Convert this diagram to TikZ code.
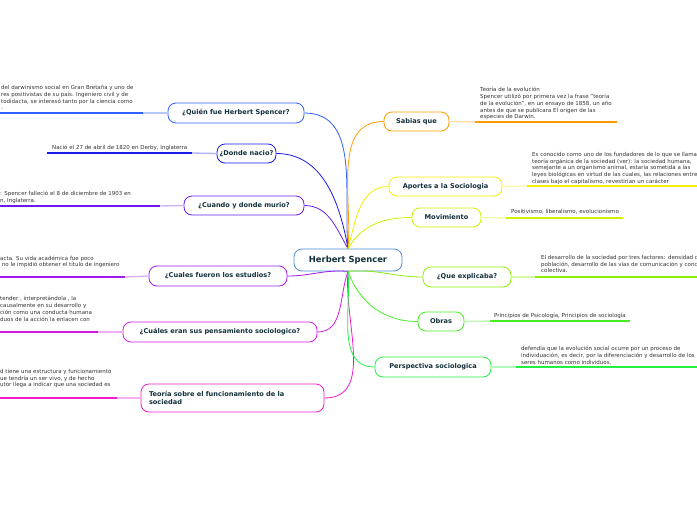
\documentclass[tikz,border=0pt]{standalone}
\usepackage{fontspec}
\setmainfont{DejaVu Sans}
\definecolor{txt}{HTML}{333333}
\definecolor{lbl}{HTML}{12303A}
\definecolor{cHS}{HTML}{4A8FD8}
\definecolor{cQ}{HTML}{3060FF}
\definecolor{cD}{HTML}{1A1AE8}
\definecolor{cC}{HTML}{6A1AEE}
\definecolor{cE}{HTML}{A01AEE}
\definecolor{cP}{HTML}{D41AE0}
\definecolor{cT}{HTML}{F21AC8}
\definecolor{cS}{HTML}{FF9A00}
\definecolor{cA}{HTML}{F2EE00}
\definecolor{cM}{HTML}{D2F000}
\definecolor{cX}{HTML}{8CEE00}
\definecolor{cO}{HTML}{44EE22}
\definecolor{cR}{HTML}{22EE44}
\tikzset{
  topic/.style={draw, rounded corners=8pt, line width=0.8pt, fill=white, text=lbl,
    font=\fontsize{6.6}{8.5}\selectfont\bfseries, inner sep=0pt, align=center},
  leaf/.style={text=txt, font=\fontsize{5.5}{6.8}\selectfont, inner sep=0pt, align=left},
  conn/.style={line width=0.8pt},
  uline/.style={line width=1.3pt},
}
\begin{document}
\begin{tikzpicture}[x=1pt,y=-1pt]
\useasboundingbox (0,0) rectangle (697,520);
\clip (0,0) rectangle (697,520);

% topics
\node[topic, draw=cHS, minimum width=108pt, minimum height=22pt, font=\fontsize{8.4}{10}\selectfont\bfseries] (hs) at (348,260) {Herbert Spencer};
\node[topic, draw=cQ, minimum width=136pt, minimum height=20pt] (q) at (236,113) {¿Quién fue Herbert Spencer?};
\node[topic, draw=cD, minimum width=59pt, minimum height=19pt] (don) at (246.5,153.5) {¿Donde nacio?};
\node[topic, draw=cC, minimum width=120pt, minimum height=19pt] (cua) at (244,205.5) {¿Cuando y donde murio?};
\node[topic, draw=cE, minimum width=138pt, minimum height=20pt] (est) at (218,276) {¿Cuales fueron los estudios?};
\node[topic, draw=cP, minimum width=194pt, minimum height=20pt] (pen) at (220,332) {¿Cuáles eran sus pensamiento sociologico?};
\node[topic, draw=cT, minimum width=183pt, minimum height=28pt, text width=167pt, align=left] (teo) at (232.5,398) {Teoría sobre el funcionamiento de la\\sociedad};
\node[topic, draw=cS, minimum width=65pt, minimum height=19pt] (sab) at (416.5,121.5) {Sabias que};
\node[topic, draw=cA, minimum width=113pt, minimum height=19pt] (apo) at (445.5,186.5) {Aportes a la Sociologia};
\node[topic, draw=cM, minimum width=69pt, minimum height=19pt] (mov) at (446.5,217.5) {Movimiento};
\node[topic, draw=cX, minimum width=88pt, minimum height=20pt] (que) at (467,277) {¿Que explicaba?};
\node[topic, draw=cO, minimum width=46pt, minimum height=19pt] (obr) at (441,321.5) {Obras};
\node[topic, draw=cR, minimum width=116pt, minimum height=20pt] (per) at (433,367) {Perspectiva sociologica};

% connectors
\draw[conn, cQ] (hs.north) to[out=95, in=0] (q.east);
\draw[conn, cD] (hs.north) to[out=100, in=0] (don.east);
\draw[conn, cC] (hs.north) to[out=120, in=0] (cua.east);
\draw[conn, cE] (hs.south) to[out=175, in=0] (est.east);
\draw[conn, cP] (hs.south) to[out=-110, in=0] (pen.east);
\draw[conn, cT] (hs.south) to[out=-95, in=0] (teo.east);
\draw[conn, cS] (hs.north) to[out=85, in=180] (sab.west);
\draw[conn, cA] (hs.north) to[out=75, in=180] (apo.west);
\draw[conn, cM] (hs.north) to[out=60, in=180] (mov.west);
\draw[conn, cX] (hs.south) to[out=5, in=180] (que.west);
\draw[conn, cO] (hs.south) to[out=-70, in=180] (obr.west);
\draw[conn, cR] (hs.south) to[out=-85, in=180] (per.west);

% underline coordinates
\coordinate (qm) at (143,113);   \coordinate (qe) at (0,113);
\coordinate (dm) at (192,153);   \coordinate (de) at (47,153);
\coordinate (cm) at (160,206);   \coordinate (ce) at (0,206);
\coordinate (em) at (125,277);   \coordinate (ee) at (0,277);
\coordinate (pm) at (98,332);    \coordinate (pe) at (0,332);
\coordinate (tm) at (117,398);   \coordinate (te) at (0,398);
\coordinate (sm) at (475,122);   \coordinate (se) at (617,122);
\coordinate (am) at (527,186);   \coordinate (ae) at (697,186);
\coordinate (mm) at (506,218);   \coordinate (me) at (623,218);
\coordinate (xm) at (535,277);   \coordinate (xe) at (697,277);
\coordinate (om) at (490,321);   \coordinate (oe) at (630,321);
\coordinate (rm) at (516,367);   \coordinate (re) at (697,367);

\draw[uline, cQ!35] (q.west) -- (qm); \draw[uline, cQ] (qm) -- (qe);
\draw[uline, cD!35] (don.west) -- (dm); \draw[uline, cD] (dm) -- (de);
\draw[uline, cC!35] (cua.west) -- (cm); \draw[uline, cC] (cm) -- (ce);
\draw[uline, cE!35] (est.west) -- (em); \draw[uline, cE] (em) -- (ee);
\draw[uline, cP!35] (pen.west) -- (pm); \draw[uline, cP] (pm) -- (pe);
\draw[uline, cT!35] (teo.west) -- (tm); \draw[uline, cT] (tm) -- (te);
\draw[uline, cS!35] (sab.east) -- (sm); \draw[uline, cS] (sm) -- (se);
\draw[uline, cA!35] (apo.east) -- (am); \draw[uline, cA] (am) -- (ae);
\draw[uline, cM!35] (mov.east) -- (mm); \draw[uline, cM] (mm) -- (me);
\draw[uline, cX!35] (que.east) -- (xm); \draw[uline, cX] (xm) -- (xe);
\draw[uline, cO!35] (obr.east) -- (om); \draw[uline, cO] (om) -- (oe);
\draw[uline, cR!35] (per.east) -- (rm); \draw[uline, cR] (rm) -- (re);

% leaf texts
\node[leaf, anchor=north west] (tq) at (1,85) {del darwinismo social en Gran Bretaña y uno de\\res positivistas de su país. Ingeniero civil y de\\todidacta, se interesó tanto por la ciencia como\\.};
\node[leaf, anchor=north west] (td) at (52,144.5) {Nació el 27 de abril de 1820 en Derby, Inglaterra};
\node[leaf, anchor=north west] (tc) at (0,191) {: Spencer falleció el 8 de diciembre de 1903 en\\n, Inglaterra.};
\node[leaf, anchor=north west] (te2) at (0,255.5) {acta. Su vida académica fue poco\\\ no le impidió obtener el título de ingeniero};
\node[leaf, anchor=north west] (tp) at (0,296) {tender , interpretándola , la\\causalmente en su desarrollo y\\ción como una conducta humana\\duos de la acción la enlacen con};
\node[leaf, anchor=north west] (tt) at (0,369) {d tiene una estructura y funcionamiento\\ue tendría un ser vivo, y de hecho\\utor llega a indicar que una sociedad es};
\node[leaf, anchor=north west] (ts) at (480,87) {Teoría de la evolución\\Spencer utilizó por primera vez la frase "teoría\\de la evolución", en un ensayo de 1858, un año\\antes de que se publicara El origen de las\\especies de Darwin.};
\node[leaf, anchor=north west] (ta) at (532,152) {Es conocido como uno de los fundadores de lo que se llama\\teoría orgánica de la sociedad (ver): la sociedad humana,\\semejante a un organismo animal, estaría sometida a las\\leyes biológicas en virtud de las cuales, las relaciones entre\\clases bajo el capitalismo, revestirían un carácter};
\node[leaf, anchor=north west] (tm2) at (511,209.5) {Positivismo, liberalismo, evolucionismo};
\node[leaf, anchor=north west] (tx) at (541,255) {El desarrollo de la sociedad por tres factores: densidad d\\población, desarrollo de las vías de comunicación y conc\\colectiva.};
\node[leaf, anchor=north west] (to) at (494,313) {Principios de Psicología, Principios de sociología};
\node[leaf, anchor=north west] (tr) at (521,346) {defendía que la evolución social ocurre por un proceso de\\individuación, es decir, por la diferenciación y desarrollo de los\\seres humanos como individuos.};
\end{tikzpicture}
\end{document}
